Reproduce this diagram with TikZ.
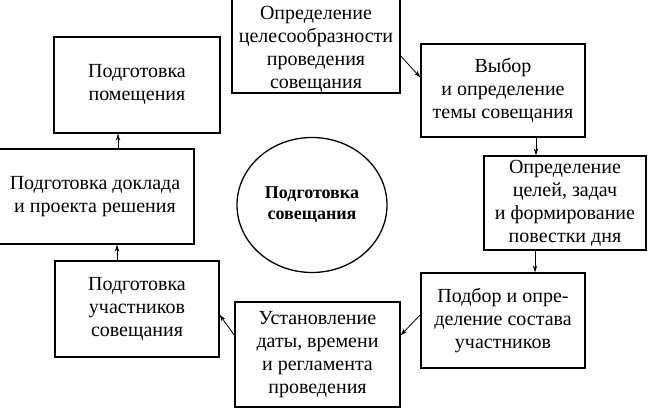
\documentclass[tikz,border=0pt]{standalone}
\usepackage{fontspec}
\setmainfont{Liberation Serif}
\usetikzlibrary{positioning,shapes,arrows.meta}

\begin{document}
\begin{tikzpicture}[x=1pt, y=-1pt,
    box/.style={rectangle, draw, line width=1.3pt, align=center, inner sep=2pt,
                font=\fontsize{20}{23}\selectfont},
    link/.style={line width=0.8pt, -{Stealth[length=7pt, width=4.5pt]}}]
    \useasboundingbox (0,0) rectangle (648,409);

    \node[box, inner sep=0pt, minimum width=168pt, minimum height=98pt] (b1) at (316,44) {\rule{0pt}{25pt}Определение\\целесообразности\\проведения\\совещания};
    \node[box, minimum width=164pt, minimum height=93pt] (b2) at (503,90.5) {Выбор\\и определение\\темы совещания};
    \node[box, minimum width=162pt, minimum height=94pt] (b3) at (565,203) {Определение\\целей, задач\\и формирование\\повестки дня};
    \node[box, minimum width=164pt, minimum height=95pt] (b4) at (503,320.5) {Подбор и опре-\\деление состава\\участников};
    \node[box, minimum width=165pt, minimum height=105pt] (b5) at (317.5,354.5) {Установление\\даты, времени\\и регламента\\проведения};
    \node[box, minimum width=164pt, minimum height=96pt] (b6) at (137,309) {Подготовка\\участников\\совещания};
    \node[box, minimum width=198pt, minimum height=95pt] (b7) at (95,196.5) {Подготовка доклада\\и проекта решения};
    \node[box, minimum width=166pt, minimum height=96pt] (b8) at (137,85) {Подготовка\\помещения};

    \node[ellipse, draw, line width=1.3pt, minimum width=150pt, minimum height=135pt,
          align=center, font=\fontsize{18}{21}\selectfont\bfseries] (c) at (312,205) {Подготовка\\совещания};

    \draw[link] (b1.-8) -- (b2.171);
    \draw[link] ([xshift=33pt]b2.south) -- ([xshift=33pt]b2.south |- b3.north);
    \draw[link] ([xshift=32pt]b4.north |- b3.south) -- ([xshift=32pt]b4.north);
    \draw[link] (b4.176) -- (b5.13);
    \draw[link] (b5.167) -- (b6.-4);
    \draw[link] ([xshift=-20pt]b6.north) -- ([xshift=-20pt]b6.north |- b7.south);
    \draw[link] ([xshift=-19pt]b8.south |- b7.north) -- ([xshift=-19pt]b8.south);
\end{tikzpicture}
\end{document}
